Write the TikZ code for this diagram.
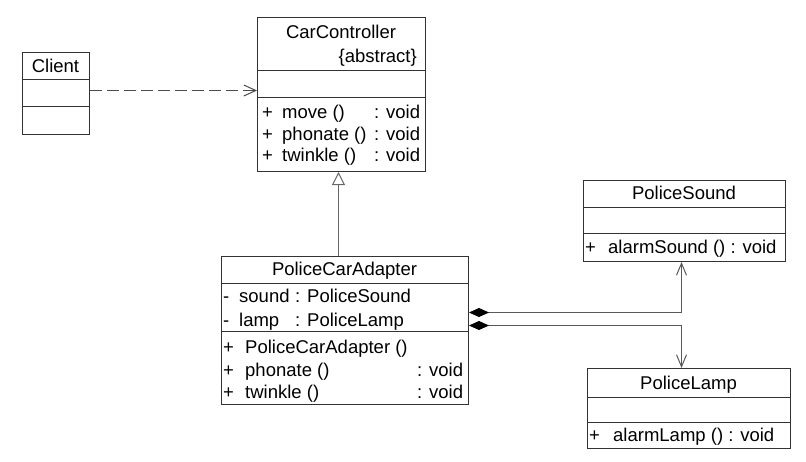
\documentclass[tikz,border=0pt]{standalone}
\usepackage{fontspec}
\setmainfont{Liberation Sans}
\usetikzlibrary{arrows.meta,calc}
\tikzstyle{cls}=[rectangle,draw=black!80,line width=1pt,inner sep=0pt,anchor=north west]
\tikzstyle{sep}=[draw=black!80,line width=1pt]
\tikzstyle{txt}=[inner sep=0pt,anchor=base west,text=black,font=\fontsize{18.5}{20}\selectfont]
\tikzstyle{ttl}=[inner sep=0pt,anchor=base,text=black,font=\fontsize{18.5}{20}\selectfont]
\tikzstyle{dep}=[-{Straight Barb[length=12pt,width=11pt]},dash pattern=on 12pt off 5pt,black!70,line width=1pt]
\tikzstyle{gen}=[-{Triangle[open,length=13pt,width=13pt]},black!60,line width=1pt]
\tikzstyle{comp}=[{Diamond[length=20pt,width=9pt,black]}-{Straight Barb[length=12pt,width=10pt]},black!65,line width=1pt]

\begin{document}
\begin{tikzpicture}[x=1pt,y=-1pt]
\useasboundingbox (0,0) rectangle (806,461);
% class boxes
\node[cls,minimum width=67pt,minimum height=82pt] (client) at (22,52) {};
\node[cls,minimum width=168pt,minimum height=154pt] (ctrl) at (257,17) {};
\node[cls,minimum width=247pt,minimum height=148pt] (adapter) at (221,256) {};
\node[cls,minimum width=202pt,minimum height=81pt] (sound) at (583,180) {};
\node[cls,minimum width=203pt,minimum height=80pt] (lamp) at (587,368) {};
% compartments
\draw[sep] (client.west |- 0,79) -- (client.east |- 0,79);
\draw[sep] (client.west |- 0,106) -- (client.east |- 0,106);
\draw[sep] (ctrl.west |- 0,70) -- (ctrl.east |- 0,70);
\draw[sep] (ctrl.west |- 0,97) -- (ctrl.east |- 0,97);
\draw[sep] (adapter.west |- 0,283) -- (adapter.east |- 0,283);
\draw[sep] (adapter.west |- 0,331) -- (adapter.east |- 0,331);
\draw[sep] (sound.west |- 0,207) -- (sound.east |- 0,207);
\draw[sep] (sound.west |- 0,233) -- (sound.east |- 0,233);
\draw[sep] (lamp.west |- 0,397) -- (lamp.east |- 0,397);
\draw[sep] (lamp.west |- 0,422) -- (lamp.east |- 0,422);
% texts
\node[ttl] (clientname) at (55.5,72) {Client};
\node[ttl] (ctrlname) at (341,38) {CarController};
\node[txt,anchor=base east] (ctrlabs) at (417,62) {\{abstract\}};
\node[txt] (ctrlm1) at (262,118) {\makebox[20pt][l]{+}\makebox[92pt][l]{move ()}: void};
\node[txt] (ctrlm2) at (262,140) {\makebox[20pt][l]{+}\makebox[92pt][l]{phonate ()}: void};
\node[txt] (ctrlm3) at (262,161) {\makebox[20pt][l]{+}\makebox[92pt][l]{twinkle ()}: void};
\node[ttl] (adaptername) at (344.5,275) {PoliceCarAdapter};
\node[txt] (adaptera1) at (223,302) {\makebox[16pt][l]{-}\makebox[56pt][l]{sound}: PoliceSound};
\node[txt] (adaptera2) at (223,326) {\makebox[16pt][l]{-}\makebox[56pt][l]{lamp}: PoliceLamp};
\node[txt] (adapterm1) at (223,353) {\makebox[22pt][l]{+}PoliceCarAdapter ()};
\node[txt] (adapterm2) at (223,376) {\makebox[22pt][l]{+}\makebox[172pt][l]{phonate ()}: void};
\node[txt] (adapterm3) at (223,398) {\makebox[22pt][l]{+}\makebox[172pt][l]{twinkle ()}: void};
\node[ttl] (soundname) at (684,199) {PoliceSound};
\node[txt] (soundm1) at (585,253) {\makebox[23pt][l]{+}alarmSound () : void};
\node[ttl] (lampname) at (688.5,389) {PoliceLamp};
\node[txt] (lampm1) at (589,441) {\makebox[24pt][l]{+}alarmLamp () : void};
% relations
\coordinate (dl) at ($(client.east)+(0,-3)$);
\draw[dep] (dl) -- (dl -| ctrl.west);
\coordinate (gb) at ($(adapter.north)+(-6.5,0)$);
\draw[gen] (gb) -- (gb |- ctrl.south);
\coordinate (s1) at ($(adapter.east)+(0,-18)$);
\coordinate (s2) at ($(sound.south)+(-3,0)$);
\draw[comp] (s1) -| (s2);
\coordinate (l1) at ($(adapter.east)+(0,-5)$);
\coordinate (l2) at ($(lamp.north)+(-7.5,0)$);
\draw[comp] (l1) -| (l2);
\end{tikzpicture}
\end{document}
